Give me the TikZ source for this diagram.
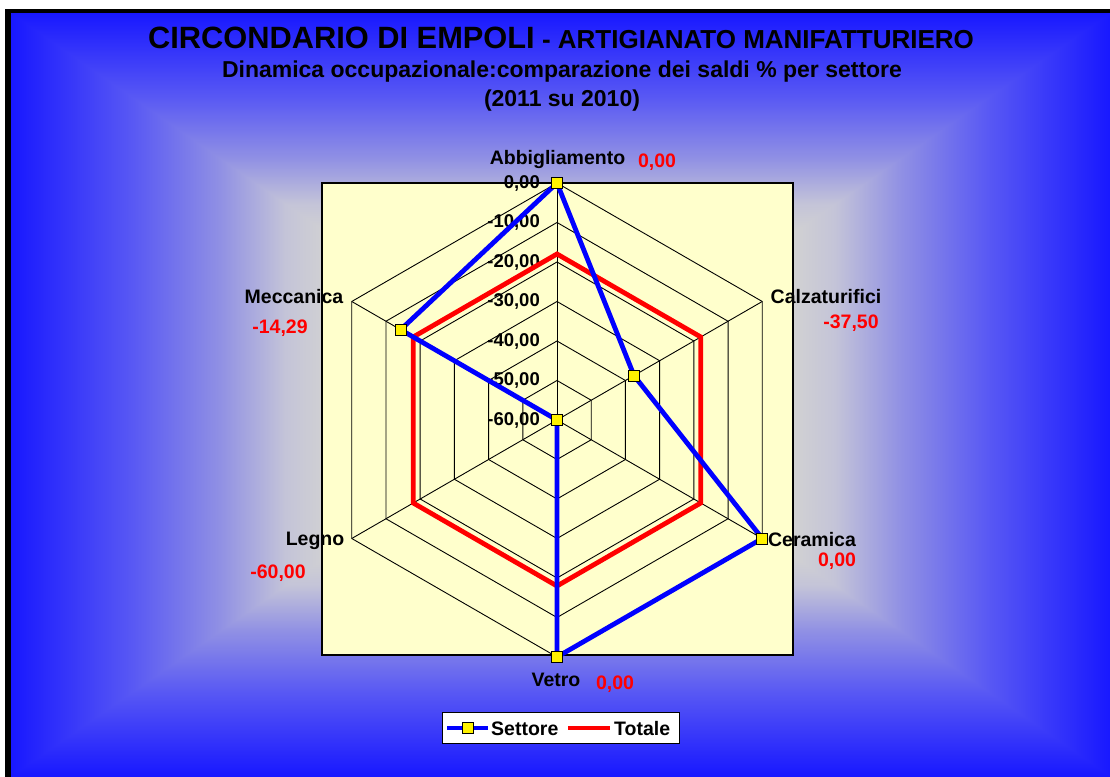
\documentclass[tikz,border=0pt]{standalone}
\usepackage{fontspec}
\setmainfont{Liberation Sans}
\usepackage{tikz}
\usetikzlibrary{positioning}

\definecolor{bgblue}{RGB}{24,24,255}
\definecolor{bggray}{RGB}{210,210,210}
\definecolor{bgmidA}{RGB}{196,196,216}
\definecolor{bgmidB}{RGB}{144,144,228}
\definecolor{bgmidC}{RGB}{88,88,244}
\definecolor{plotyellow}{RGB}{255,255,204}
\definecolor{valred}{RGB}{255,0,0}
\definecolor{serieblue}{RGB}{0,0,255}

\pgfdeclareverticalshading{bgvert}{100bp}{color(0bp)=(bggray); color(25bp)=(bggray);
  color(46bp)=(bggray); color(50bp)=(bgmidA); color(56bp)=(bgmidB); color(64bp)=(bgmidC);
  color(75bp)=(bgblue); color(100bp)=(bgblue)}

\begin{document}
\begin{tikzpicture}[x=1pt, y=1pt,
    gridline/.style={black, line width=0.9pt},
    settore/.style={serieblue, line width=4.8pt, line join=round},
    totale/.style={valred, line width=4.8pt},
    marker/.style={draw=black, fill=yellow, line width=0.9pt, minimum size=11pt, inner sep=0pt},
    catlabel/.style={font=\fontsize{19.5}{22}\selectfont\bfseries, inner sep=0pt},
    vallabel/.style={catlabel, text=valred},
    ticklabel/.style={font=\fontsize{18.5}{22}\selectfont\bfseries, inner sep=0pt, anchor=east}]
  \useasboundingbox (0,0) rectangle (1110,776);
  \clip (0,0) rectangle (1110,776);

  % background
  \coordinate (bgc) at (560,381.5);
  \shade[shading=bgvert] (11,381.5) rectangle (1110,763);
  \shade[shading=bgvert, shading angle=180] (11,0) rectangle (1110,381.5);
  \shade[shading=bgvert, shading angle=90] (11,0) -- (11,763) -- (bgc) -- cycle;
  \shade[shading=bgvert, shading angle=270] (1110,0) -- (1110,763) -- (bgc) -- cycle;
  \draw[line width=6pt] (8,-10) -- (8,765);
  \draw[line width=4.5pt] (5,765) -- (1120,765);

  % titles
  \node[inner sep=0pt, font=\bfseries] (title) at (561,738)
    {{\fontsize{30.8}{34}\selectfont CIRCONDARIO DI EMPOLI}{\fontsize{26}{30}\selectfont\ - ARTIGIANATO MANIFATTURIERO}};
  \node[inner sep=0pt, font=\fontsize{23}{26}\selectfont\bfseries] (subtitle) at (562,704)
    {Dinamica occupazionale:comparazione dei saldi \% per settore};
  \node[inner sep=0pt, font=\fontsize{23}{26}\selectfont\bfseries] (years) at (562,675) {(2011 su 2010)};

  % plot area
  \draw[fill=plotyellow, line width=1.3pt] (322,121) rectangle (793,593);
  \coordinate (ctr) at (557,356);
  \foreach \k in {1,...,6}
    \draw[gridline, shift={(ctr)}] (90:\k*39.5) -- (30:\k*39.5) -- (-30:\k*39.5)
      -- (-90:\k*39.5) -- (-150:\k*39.5) -- (150:\k*39.5) -- cycle;
  \foreach \a in {90,30,-30,-90,-150,150}
    \draw[gridline] (ctr) -- ++(\a:237);

  % axis values
  \foreach \lab [count=\i from 0] in {{0,00},{-10,00},{-20,00},{-30,00},{-40,00},{-50,00},{-60,00}}
    \node[ticklabel] (tick\i) at (540,593-\i*39.5) {\lab};

  % Totale
  \draw[totale, shift={(ctr)}] (90:166) -- (30:166) -- (-30:166) -- (-90:166)
    -- (-150:166) -- (150:166) -- cycle;

  % Settore
  \path (ctr) ++(90:237) coordinate (sAbb)
        (ctr) ++(30:88.9) coordinate (sCal)
        (ctr) ++(-30:237) coordinate (sCer)
        (ctr) ++(-90:237) coordinate (sVet)
        (ctr) coordinate (sLeg)
        (ctr) ++(150:180.6) coordinate (sMec);
  \draw[settore] (sAbb) -- (sCal) -- (sCer) -- (sVet) -- (sLeg) -- (sMec) -- cycle;
  \foreach \p in {Abb,Cal,Cer,Vet,Leg,Mec}
    \node[marker] (m\p) at (s\p) {};

  % categories
  \node[catlabel] (abb) at (557.5,616) {Abbigliamento};
  \node[vallabel] (abbv) at (657,614) {0,00};
  \node[catlabel] (cal) at (826,479) {Calzaturifici};
  \node[vallabel] (calv) at (851,453) {-37,50};
  \node[catlabel] (cer) at (812,236) {Ceramica};
  \node[vallabel] (cerv) at (837,215) {0,00};
  \node[catlabel] (vet) at (556,96) {Vetro};
  \node[vallabel] (vetv) at (615,92) {0,00};
  \node[catlabel] (leg) at (315,235) {Legno};
  \node[vallabel] (legv) at (278,203) {-60,00};
  \node[catlabel] (mec) at (294,479) {Meccanica};
  \node[vallabel] (mecv) at (280,448) {-14,29};

  % legend
  \node[draw, fill=white, line width=1pt, minimum width=237pt, minimum height=31pt] (legend) at (560.5,48.5) {};
  \coordinate (lgA) at (447,48);
  \coordinate (lgB) at (488,48);
  \draw[settore] (lgA) -- (lgB);
  \node[marker] (lgm) at (467.5,48) {};
  \node[catlabel, anchor=west] (lgs) at (491,47) {Settore};
  \coordinate (lgC) at (568,48);
  \coordinate (lgD) at (610,48);
  \draw[totale] (lgC) -- (lgD);
  \node[catlabel, anchor=west] (lgt) at (614,47) {Totale};
\end{tikzpicture}
\end{document}
